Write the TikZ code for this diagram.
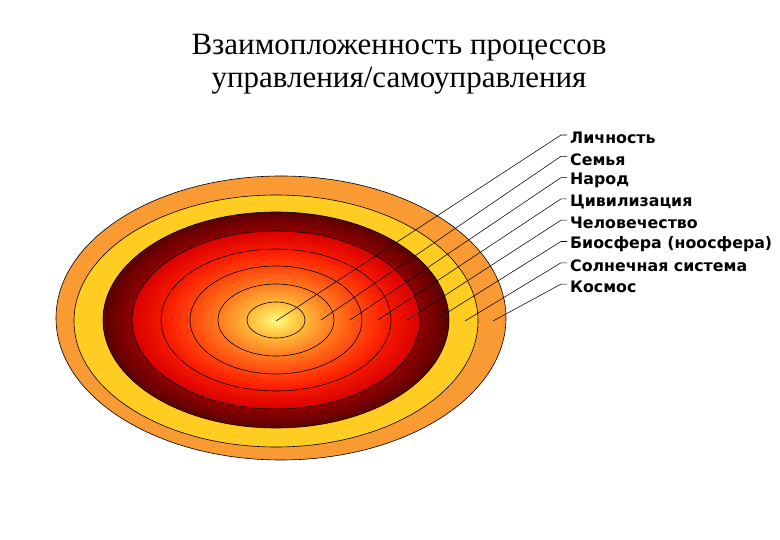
\documentclass[tikz,border=0pt]{standalone}
\usepackage{fontspec}
\setmainfont{Liberation Serif}
\newfontfamily\labfont{DejaVu Sans}
\usetikzlibrary{calc}
\definecolor{outerorange}{HTML}{F99A32}
\definecolor{ringyellow}{HTML}{FFCC22}
\pgfdeclareradialshading{coreshade}{\pgfpoint{0bp}{0bp}}{%
rgb(0bp)=(1,0.98,0.55);
rgb(2.5bp)=(1,0.86,0.32);
rgb(5bp)=(1,0.72,0.22);
rgb(7.5bp)=(1,0.60,0.18);
rgb(10bp)=(1,0.48,0.12);
rgb(12.5bp)=(1,0.37,0.08);
rgb(15bp)=(1,0.27,0.05);
rgb(17.5bp)=(1,0.17,0.02);
rgb(20bp)=(0.96,0.09,0);
rgb(25bp)=(0.85,0,0);
rgb(50bp)=(0.85,0,0)}
\pgfdeclareradialshading{darkshade}{\pgfpoint{0bp}{0bp}}{%
rgb(0bp)=(0.6,0,0);
rgb(20.8bp)=(0.56,0,0);
rgb(25bp)=(0.36,0,0);
rgb(50bp)=(0.36,0,0)}
\tikzset{
  ring/.style={draw=black,line width=0.6pt},
  lab/.style={anchor=west,inner sep=0pt,font=\labfont\bfseries\fontsize{15.8}{18}\selectfont},
  leader/.style={draw=black,line width=0.55pt},
  titlefont/.style={font=\fontsize{31}{33}\selectfont,align=center,inner sep=0pt}
}
\begin{document}
\begin{tikzpicture}[x=1pt,y=-1pt]
\useasboundingbox (0,0) rectangle (780,540);
\fill[white] (0,0) rectangle (780,540);
% title
\node[titlefont] (title) at (399,64) {Взаимопложенность процессов\\управления/самоуправления};
% rings
\fill[outerorange,ring] (281,318) ellipse [x radius=225,y radius=142];
\fill[ringyellow,ring] (276,321) ellipse [x radius=202,y radius=126];
\shade[shading=darkshade,ring] (276,320) ellipse [x radius=173,y radius=108];
\shade[shading=coreshade,ring] (276,320) ellipse [x radius=144,y radius=89];
\draw[ring] (276,320) ellipse [x radius=115,y radius=71];
\draw[ring] (276,320) ellipse [x radius=86,y radius=54];
\draw[ring] (276,320) ellipse [x radius=58,y radius=36];
\draw[ring] (276,320) ellipse [x radius=29,y radius=18];
% labels
\node[lab] (l1) at (570,138) {Личность};
\node[lab] (l2) at (570,159.3) {Семья};
\node[lab] (l3) at (570,180.6) {Народ};
\node[lab] (l4) at (570,201.9) {Цивилизация};
\node[lab] (l5) at (570,223.2) {Человечество};
\node[lab] (l6) at (570,244.5) {Биосфера (ноосфера)};
\node[lab] (l7) at (570,265.8) {Солнечная система};
\node[lab] (l8) at (570,287.1) {Космос};
% leader end points
\coordinate (e1) at (276,321);
\coordinate (e2) at (321,320);
\coordinate (e3) at (350,320);
\coordinate (e4) at (378,320);
\coordinate (e5) at (407,320);
\coordinate (e6) at (437,319);
\coordinate (e7) at (465,321);
\coordinate (e8) at (493,321);
\foreach \i in {1,...,8}{
  \draw[leader] (e\i) -- ($(l\i.west)+(-9,-3)$) -- ($(l\i.west)+(-3,-3)$);
}
\end{tikzpicture}
\end{document}
